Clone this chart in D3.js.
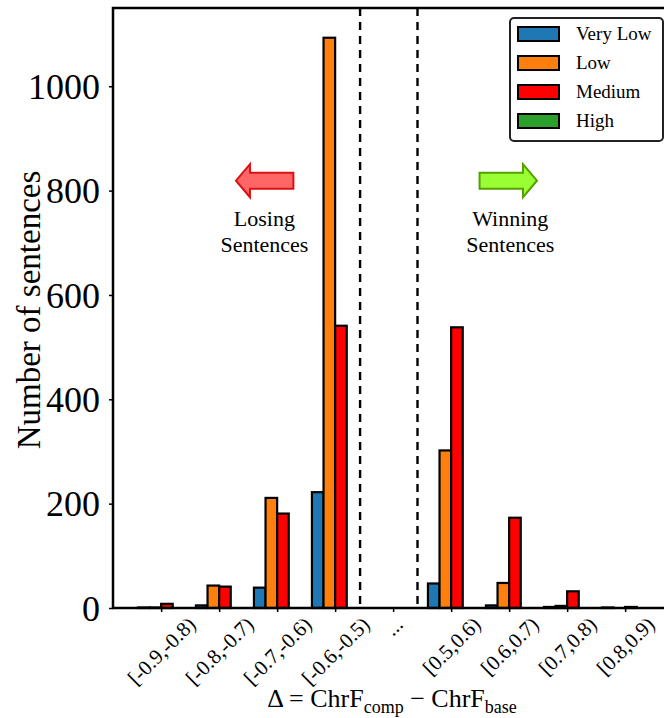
<!DOCTYPE html>
<html>
<head>
<meta charset="utf-8">
<script src="https://cdn.jsdelivr.net/npm/d3@7/dist/d3.min.js"></script>
<style>
  html, body { margin: 0; padding: 0; background: #fff; }
  svg text { font-family: "Liberation Serif", "DejaVu Serif", serif !important; fill: #000; }
</style>
</head>
<body>
<svg id="chart" width="664" height="718"></svg>
<script>
// Score-difference bins (the "..." slot separates losing from winning bins)
const categories = ["[-0.9,-0.8)", "[-0.8,-0.7)", "[-0.7,-0.6)", "[-0.6,-0.5)", "...",
                    "[0.5,0.6)", "[0.6,0.7)", "[0.7,0.8)", "[0.8,0.9)"];
const seriesNames = ["Very Low", "Low", "Medium", "High"];
const seriesColors = ["#1f77b4", "#ff7f0e", "#ff0000", "#2ca02c"];

// Sentence counts per bin for each quality level
const veryLow = [1, 5, 39, 222, 0, 47, 5, 2, 1];
const low     = [1, 43, 211, 1093, 0, 302, 48, 4, 0];
const medium  = [8, 41, 181, 541, 0, 538, 173, 32, 2];
const high    = [0, 0, 0, 0, 0, 0, 0, 0, 0];
const seriesValues = [veryLow, low, medium, high];

const yTicks = [0, 200, 400, 600, 800, 1000];

const svg = d3.select("#chart");
const plotLeft = 113, plotTop = 8, plotBottom = 608;
const unit = 58;

const x = d3.scaleLinear().domain([-0.83, 8.83]).range([plotLeft, plotLeft + 9.66 * unit]);
const y = d3.scaleLinear().domain([0, 1150]).range([plotBottom, plotTop]);

const barW = 0.2;
const offsets = [-0.3, -0.1, 0.1, 0.3];

// Bars
seriesValues.forEach((vals, s) => {
  svg.append("g")
    .selectAll("rect")
    .data(vals.map((v, i) => ({ i, v })).filter(d => categories[d.i] !== "..."))
    .join("rect")
    .attr("x", d => x(d.i + offsets[s] - barW / 2))
    .attr("width", x(barW) - x(0))
    .attr("y", d => y(d.v))
    .attr("height", d => y(0) - y(d.v))
    .attr("fill", seriesColors[s])
    .attr("stroke", "#000")
    .attr("stroke-width", 2.2);
});

// Dashed separators around the gap
[3.43, 4.42].forEach(v => {
  svg.append("line")
    .attr("x1", x(v)).attr("x2", x(v))
    .attr("y1", y(1150)).attr("y2", y(0))
    .attr("stroke", "#000")
    .attr("stroke-width", 2.4)
    .attr("stroke-dasharray", "8,6");
});

// Axes
const yAxis = d3.axisLeft(y).tickValues(yTicks).tickFormat(d3.format("d")).tickSize(4).tickPadding(9);
const gy = svg.append("g").attr("transform", `translate(${plotLeft},0)`).call(yAxis);
gy.select(".domain").remove();
gy.selectAll("text").attr("font-size", 36).attr("dy", "0.34em");
gy.selectAll("line").attr("stroke", "#000").attr("stroke-width", 1.5);

const xAxis = d3.axisBottom(x).tickValues(d3.range(categories.length))
  .tickFormat(i => categories[i]).tickSize(4).tickPadding(4);
const gx = svg.append("g").attr("transform", `translate(0,${plotBottom})`).call(xAxis);
gx.select(".domain").remove();
gx.selectAll("line").attr("stroke", "#000").attr("stroke-width", 1.5);
// Rotated labels: the rotated box is centred on the tick, its top just under the axis
const labelTop = 7, labelSize = 21;
gx.selectAll("text")
  .attr("font-size", labelSize)
  .attr("text-anchor", "middle")
  .attr("dominant-baseline", "central")
  .attr("dy", null)
  .attr("x", 0).attr("y", 0)
  .each(function () {
    const len = this.getComputedTextLength();
    const h = labelSize * 0.78;
    const half = (len + h) * Math.SQRT1_2 / 2;
    d3.select(this).attr("transform", `translate(0,${labelTop + half}) rotate(-45)`);
  });

// Frame (left, top, bottom spines)
svg.append("path")
  .attr("d", `M${x(8.83)},${plotTop} H${plotLeft} V${plotBottom} H${x(8.83)}`)
  .attr("fill", "none")
  .attr("stroke", "#000")
  .attr("stroke-width", 2.5);

// Axis titles
svg.append("text")
  .attr("transform", `translate(40,310) rotate(-90)`)
  .attr("text-anchor", "middle")
  .attr("font-size", 33)
  .text("Number of sentences");

const xl = svg.append("text")
  .attr("x", 392).attr("y", 707)
  .attr("text-anchor", "middle")
  .attr("font-size", 26);
xl.append("tspan").text("Δ = ChrF");
xl.append("tspan").attr("font-size", 18).attr("dy", 6).text("comp");
xl.append("tspan").attr("dy", -6).text(" − ChrF");
xl.append("tspan").attr("font-size", 18).attr("dy", 6).text("base");

// Direction arrows
function arrow(x0, x1, yc, fill, stroke) {
  // x0 = tail, x1 = tip, in data units
  const tail = x(x0), tip = x(x1), cy = y(yc);
  const dir = Math.sign(tip - tail);
  const headBase = tip - dir * 14;
  const bh = 8, hh = 16.5;
  const pts = [[tail, cy - bh], [headBase, cy - bh], [headBase, cy - hh], [tip, cy],
               [headBase, cy + hh], [headBase, cy + bh], [tail, cy + bh]];
  svg.append("path")
    .attr("d", d3.line()(pts) + "Z")
    .attr("fill", fill)
    .attr("stroke", stroke)
    .attr("stroke-width", 2)
    .attr("stroke-linejoin", "miter");
}
arrow(2.28, 1.29, 819, "#ff6666", "#dd1111");
arrow(5.49, 6.48, 819, "#99ff33", "#55a000");

function note(cx, lines) {
  const t = svg.append("text")
    .attr("text-anchor", "middle")
    .attr("font-size", 22);
  lines.forEach((s, k) => {
    t.append("tspan").attr("x", x(cx)).attr("y", y(732) + k * 26).text(s);
  });
}
note(1.78, ["Losing", "Sentences"]);
note(6.02, ["Winning", "Sentences"]);

// Legend
const lg = svg.append("g").attr("transform", "translate(510,18)");
lg.append("rect")
  .attr("width", 153).attr("height", 123)
  .attr("rx", 4)
  .attr("fill", "#fff")
  .attr("stroke", "#222")
  .attr("stroke-width", 2);
seriesNames.forEach((name, k) => {
  const row = lg.append("g").attr("transform", `translate(0,${16 + k * 29})`);
  row.append("rect")
    .attr("x", 8).attr("y", -7)
    .attr("width", 41).attr("height", 14)
    .attr("fill", seriesColors[k])
    .attr("stroke", "#000")
    .attr("stroke-width", 2);
  row.append("text")
    .attr("x", 66).attr("y", 6)
    .attr("font-size", 19)
    .text(name);
});
</script>
</body>
</html>
